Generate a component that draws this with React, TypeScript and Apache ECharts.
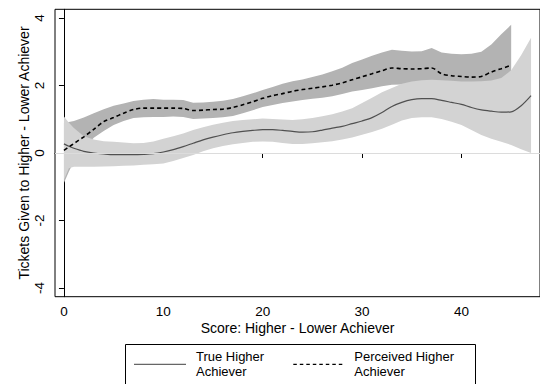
import React, { useEffect, useRef } from "react";
import * as echarts from "echarts";

// Score gap (higher minus lower achiever) at which each smoothed curve is evaluated
const trueX = [0, 0.5, 1, 2, 3, 4, 5, 6, 7, 8, 9, 10, 11, 12, 13, 14, 15, 16, 17, 18, 19, 20, 21, 22, 23, 24, 25, 26, 27, 28, 29, 30, 31, 32, 33, 34, 35, 36, 37, 38, 39, 40, 41, 42, 43, 44, 45, 46, 47];
const trueMean = [0.27, 0.2, 0.14, 0.05, 0.0, -0.03, -0.05, -0.05, -0.05, -0.04, -0.02, 0.03, 0.1, 0.19, 0.29, 0.39, 0.47, 0.54, 0.6, 0.64, 0.67, 0.69, 0.69, 0.67, 0.64, 0.62, 0.63, 0.68, 0.74, 0.79, 0.87, 0.95, 1.05, 1.2, 1.38, 1.5, 1.58, 1.61, 1.61, 1.56, 1.5, 1.44, 1.35, 1.28, 1.24, 1.21, 1.22, 1.4, 1.7];
const trueUpper = [1.08, 0.9, 0.74, 0.5, 0.4, 0.35, 0.33, 0.31, 0.29, 0.3, 0.34, 0.42, 0.5, 0.58, 0.68, 0.76, 0.84, 0.9, 0.95, 0.98, 1.0, 1.02, 1.01, 0.99, 0.98, 1.0, 1.04, 1.09, 1.15, 1.23, 1.33, 1.48, 1.64, 1.8, 1.93, 2.05, 2.12, 2.16, 2.17, 2.16, 2.14, 2.12, 2.12, 2.13, 2.15, 2.22, 2.45, 2.9, 3.42];
const trueLower = [-0.79, -0.45, -0.41, -0.41, -0.41, -0.4, -0.39, -0.38, -0.37, -0.35, -0.33, -0.31, -0.24, -0.15, -0.06, 0.05, 0.14, 0.21, 0.26, 0.3, 0.33, 0.34, 0.33, 0.3, 0.27, 0.27, 0.29, 0.32, 0.35, 0.4, 0.46, 0.54, 0.62, 0.72, 0.84, 0.96, 1.04, 1.06, 1.06, 1.01, 0.93, 0.83, 0.68, 0.53, 0.42, 0.33, 0.24, 0.11, 0.0];

const percX = [0, 0.5, 1, 1.5, 2, 3, 4, 5, 6, 7, 8, 9, 10, 11, 12, 13, 14, 15, 16, 17, 18, 19, 20, 21, 22, 23, 24, 25, 26, 27, 28, 29, 30, 31, 32, 33, 34, 35, 36, 37, 38, 39, 40, 41, 42, 43, 44, 45];
const percMean = [0.08, 0.18, 0.28, 0.38, 0.48, 0.7, 0.93, 1.05, 1.18, 1.29, 1.33, 1.33, 1.33, 1.33, 1.32, 1.26, 1.27, 1.29, 1.3, 1.35, 1.43, 1.52, 1.62, 1.7, 1.76, 1.83, 1.88, 1.92, 1.96, 2.01, 2.08, 2.17, 2.26, 2.35, 2.44, 2.52, 2.5, 2.49, 2.5, 2.52, 2.35, 2.29, 2.27, 2.25, 2.27, 2.4, 2.5, 2.6];
const percUpper = [0.89, 0.92, 0.95, 1.0, 1.05, 1.18, 1.3, 1.4, 1.47, 1.54, 1.58, 1.6, 1.58, 1.58, 1.57, 1.49, 1.5, 1.52, 1.55, 1.6, 1.68, 1.77, 1.87, 1.96, 2.05, 2.13, 2.18, 2.25, 2.33, 2.42, 2.53, 2.67, 2.77, 2.88, 2.98, 3.06, 3.03, 3.01, 3.02, 3.11, 2.98, 2.94, 2.93, 2.94, 3.0, 3.22, 3.52, 3.8];
const percLower = [-0.89, -0.55, -0.25, -0.05, 0.12, 0.45, 0.65, 0.83, 0.95, 1.04, 1.06, 1.07, 1.07, 1.08, 1.07, 1.01, 1.02, 1.04, 1.06, 1.1, 1.18, 1.27, 1.36, 1.42, 1.48, 1.53, 1.57, 1.61, 1.64, 1.68, 1.75, 1.82, 1.87, 1.92, 1.98, 2.02, 2.03, 2.04, 2.05, 2.05, 2.05, 2.05, 2.05, 2.04, 2.02, 2.03, 2.1, 2.27];

const xTicks = [0, 10, 20, 30, 40];
const yTicks = [-4, -2, 0, 2, 4];

// Legend entries, one string per printed line
const trueLabelLines = ["True Higher", "Achiever"];
const percLabelLines = ["Perceived Higher", "Achiever"];

const FONT = "'Liberation Sans', Arial, Helvetica, sans-serif";

const pairs = (xs: number[], ys: number[]) => xs.map((x, i) => [x, ys[i]]);
const triples = (xs: number[], lo: number[], hi: number[]) => xs.map((x, i) => [x, lo[i], hi[i]]);

// Confidence band drawn as one filled polygon: upper edge forward, lower edge back
function bandSeries(name: string, rows: number[][], fill: string, z: number) {
  return {
    type: "custom",
    name,
    z,
    silent: true,
    clip: true,
    encode: { x: 0, y: [1, 2] },
    data: rows,
    renderItem: (params: any, api: any) => {
      if (params.dataIndex !== 0) return null;
      const top = rows.map((r) => api.coord([r[0], r[2]]));
      const bottom = rows.map((r) => api.coord([r[0], r[1]])).reverse();
      return {
        type: "polygon",
        shape: { points: top.concat(bottom) },
        style: { fill, stroke: null },
      };
    },
  };
}

function legendText(lines: string[], x: number, y0: number, step: number) {
  return lines.map((line, i) => ({
    type: "text",
    silent: true,
    style: {
      text: line,
      x,
      y: y0 + i * step,
      fontSize: 13,
      lineHeight: 13,
      fontFamily: FONT,
      fill: "#000",
      verticalAlign: "middle",
    },
  }));
}

export default function App() {
  const ref = useRef<HTMLDivElement>(null);

  useEffect(() => {
    if (!ref.current) return;
    const chart = echarts.init(ref.current, null, { renderer: "svg" });

    const legendY = 364.3;

    chart.setOption({
      animation: false,
      textStyle: { fontFamily: FONT, color: "#000" },
      grid: {
        left: 55,
        top: 9.3,
        width: 491.6,
        height: 287.4,
        show: true,
        borderColor: "#000",
        borderWidth: 1,
        backgroundColor: "transparent",
      },
      xAxis: {
        type: "value",
        min: -0.9,
        max: 47.9,
        name: "Score: Higher - Lower Achiever",
        nameLocation: "middle",
        nameGap: 24,
        nameMoveOverlap: false,
        nameTextStyle: { fontSize: 14, color: "#000", fontFamily: FONT },
        axisLine: { show: true, lineStyle: { color: "#000", width: 1 } },
        axisTick: { show: true, length: 5, customValues: xTicks, lineStyle: { color: "#000" } },
        axisLabel: { customValues: xTicks, fontSize: 13.5, color: "#000", margin: 8, fontFamily: FONT },
        splitLine: { show: false },
      },
      yAxis: {
        type: "value",
        min: -4.26,
        max: 4.26,
        name: "Tickets Given to Higher - Lower Achiever",
        nameLocation: "middle",
        nameGap: 24,
        nameMoveOverlap: false,
        nameTextStyle: { fontSize: 14, color: "#000", fontFamily: FONT },
        axisLine: { show: true, lineStyle: { color: "#000", width: 1 } },
        axisTick: { show: true, length: 5, customValues: yTicks, lineStyle: { color: "#000" } },
        axisLabel: { customValues: yTicks, rotate: 90, fontSize: 13.5, color: "#000", margin: 9, fontFamily: FONT },
        splitLine: { show: false },
      },
      graphic: [
        {
          type: "rect",
          silent: true,
          shape: { x: 125.5, y: 344.5, width: 350, height: 60 },
          style: { fill: "none", stroke: "#000", lineWidth: 1 },
        },
        {
          type: "line",
          silent: true,
          shape: { x1: 134, y1: legendY, x2: 186, y2: legendY },
          style: { stroke: "#666666", lineWidth: 1.2 },
        },
        ...legendText(trueLabelLines, 196, 356.2, 15),
        {
          type: "line",
          silent: true,
          shape: { x1: 293.3, y1: legendY, x2: 345, y2: legendY },
          style: { stroke: "#000000", lineWidth: 1.3, lineDash: [3.5, 3] },
        },
        ...legendText(percLabelLines, 354.3, 356.2, 15),
      ],
      series: [
        {
          type: "line",
          name: "zero",
          data: [],
          silent: true,
          z: 1,
          markLine: {
            silent: true,
            symbol: "none",
            label: { show: false },
            lineStyle: { color: "#dcdcdc", width: 1, type: "solid" },
            data: [{ yAxis: 0 }],
          },
        },
        bandSeries("Perceived band", triples(percX, percLower, percUpper), "#b3b3b3", 2),
        bandSeries("True band", triples(trueX, trueLower, trueUpper), "#d3d3d3", 3),
        {
          type: "line",
          name: "True Higher Achiever",
          symbol: "none",
          smooth: 0.3,
          z: 4,
          lineStyle: { color: "#505050", width: 1.2, type: "solid" },
          data: pairs(trueX, trueMean),
        },
        {
          type: "line",
          name: "Perceived Higher Achiever",
          symbol: "none",
          smooth: 0.3,
          z: 5,
          lineStyle: { color: "#000000", width: 1.6, type: [4, 3] },
          data: pairs(percX, percMean),
        },
      ],
    });

    return () => chart.dispose();
  }, []);

  return (
    <div
      ref={ref}
      style={{ position: "absolute", left: 0, top: 0, width: 540, height: 384, background: "#fff" }}
    />
  );
}
